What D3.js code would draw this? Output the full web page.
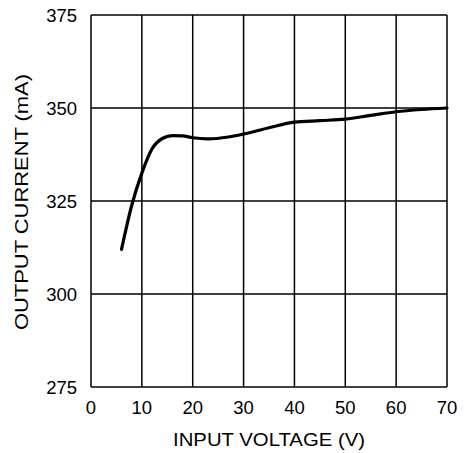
<!DOCTYPE html>
<html>
<head>
<meta charset="utf-8">
<script src="https://cdn.jsdelivr.net/npm/d3@7"></script>
<style>
  html, body { margin: 0; padding: 0; background: #fff; }
  svg text { font-family: "Liberation Sans", Arial, sans-serif; fill: #000; }
</style>
</head>
<body>
<svg id="chart" width="466" height="453"></svg>
<script>
  const voltage = [6, 8, 10, 12, 14, 16, 18, 20, 23, 27, 30, 35, 40, 45, 50, 55, 60, 65, 70];
  const current = [312, 323.8, 332.5, 339, 341.8, 342.6, 342.5, 342, 341.7, 342.2, 343, 344.7, 346.2, 346.6, 347, 348, 349, 349.6, 350];
  const xTicks = [0, 10, 20, 30, 40, 50, 60, 70];
  const yTicks = [275, 300, 325, 350, 375];

  const margin = { left: 91, top: 15, right: 19, bottom: 66 };
  const width = 466, height = 453;

  const svg = d3.select("#chart");
  const x = d3.scaleLinear().domain([0, 70]).range([margin.left, width - margin.right]);
  const y = d3.scaleLinear().domain([275, 375]).range([height - margin.bottom, margin.top]);

  // grid
  svg.append("g")
    .selectAll("line")
    .data(xTicks)
    .join("line")
    .attr("x1", (d) => x(d)).attr("x2", (d) => x(d))
    .attr("y1", y(275)).attr("y2", y(375))
    .attr("stroke", "#000").attr("stroke-width", 1.5);

  svg.append("g")
    .selectAll("line")
    .data(yTicks)
    .join("line")
    .attr("x1", x(0)).attr("x2", x(70))
    .attr("y1", (d) => y(d)).attr("y2", (d) => y(d))
    .attr("stroke", "#000").attr("stroke-width", 1.5);

  // tick labels
  svg.append("g")
    .selectAll("text")
    .data(xTicks)
    .join("text")
    .attr("x", (d) => x(d))
    .attr("y", y(275) + 27)
    .attr("text-anchor", "middle")
    .attr("font-size", 18.5)
    .text((d) => d);

  svg.append("g")
    .selectAll("text")
    .data(yTicks)
    .join("text")
    .attr("x", x(0) - 14)
    .attr("y", (d) => y(d) + 7)
    .attr("text-anchor", "end")
    .attr("font-size", 18.5)
    .text((d) => d);

  // axis titles
  svg.append("text")
    .attr("x", 269)
    .attr("y", 446)
    .attr("text-anchor", "middle")
    .attr("font-size", 18.5)
    .attr("textLength", 192)
    .attr("lengthAdjust", "spacingAndGlyphs")
    .text("INPUT VOLTAGE (V)");

  svg.append("text")
    .attr("transform", "translate(28,202) rotate(-90)")
    .attr("text-anchor", "middle")
    .attr("font-size", 18.5)
    .attr("textLength", 256)
    .attr("lengthAdjust", "spacingAndGlyphs")
    .text("OUTPUT CURRENT (mA)");

  // curve
  const line = d3.line()
    .x((d, i) => x(voltage[i]))
    .y((d) => y(d))
    .curve(d3.curveMonotoneX);

  svg.append("path")
    .datum(current)
    .attr("d", line)
    .attr("fill", "none")
    .attr("stroke", "#000")
    .attr("stroke-width", 3.2)
    .attr("stroke-linecap", "round");
</script>
</body>
</html>
